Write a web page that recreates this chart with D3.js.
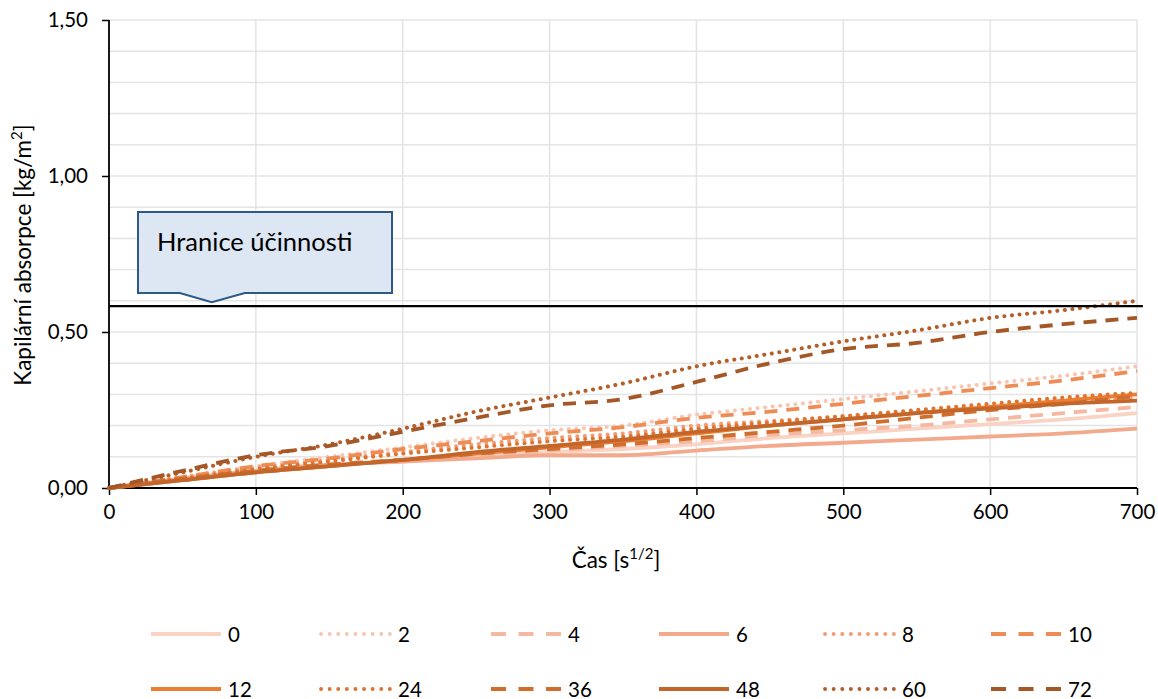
<!DOCTYPE html>
<html><head><meta charset="utf-8">
<script src="https://cdn.jsdelivr.net/npm/d3@7"></script>
<style>
body{margin:0;background:#fff;}
text{font-family:Lato,"Liberation Sans",sans-serif;fill:#000;}
</style></head>
<body><svg id="chart" width="1158" height="699"></svg>
<script>
const xValues = [0,50,100,150,200,250,300,350,400,450,500,550,600,650,700];
const seriesNames = ["0","2","4","6","8","10","12","24","36","48","60","72"];
const s0  = [0,0.03,0.055,0.075,0.085,0.10,0.115,0.125,0.14,0.16,0.175,0.19,0.205,0.22,0.24];
const s2  = [0,0.035,0.07,0.10,0.13,0.16,0.185,0.20,0.235,0.26,0.285,0.31,0.335,0.36,0.39];
const s4  = [0,0.03,0.055,0.075,0.09,0.105,0.12,0.135,0.15,0.17,0.185,0.20,0.22,0.24,0.26];
const s6  = [0,0.03,0.055,0.075,0.085,0.095,0.105,0.105,0.12,0.135,0.145,0.155,0.165,0.175,0.19];
const s8  = [0,0.035,0.065,0.09,0.115,0.14,0.16,0.175,0.20,0.215,0.23,0.245,0.26,0.275,0.29];
const s10 = [0,0.035,0.07,0.095,0.125,0.15,0.175,0.195,0.225,0.245,0.27,0.295,0.32,0.345,0.375];
const s12 = [0,0.025,0.05,0.07,0.09,0.11,0.13,0.15,0.175,0.20,0.22,0.24,0.26,0.28,0.30];
const s24 = [0,0.03,0.06,0.085,0.11,0.13,0.15,0.165,0.19,0.21,0.23,0.25,0.27,0.29,0.305];
const s36 = [0,0.03,0.055,0.075,0.09,0.11,0.125,0.14,0.16,0.18,0.20,0.225,0.25,0.27,0.295];
const s48 = [0,0.025,0.05,0.07,0.09,0.115,0.135,0.155,0.18,0.20,0.22,0.24,0.255,0.27,0.28];
const s60 = [0,0.05,0.10,0.14,0.19,0.245,0.29,0.335,0.39,0.43,0.47,0.505,0.545,0.57,0.60];
const s72 = [0,0.055,0.105,0.135,0.18,0.225,0.265,0.285,0.34,0.40,0.445,0.465,0.50,0.525,0.545];
const seriesValues = [s0,s2,s4,s6,s8,s10,s12,s24,s36,s48,s60,s72];
const seriesColors = ["#f9d3c4","#f7c6b2","#f5b8a0","#f3aa8c","#f19c76","#ef8c55","#ed7d31","#dd7530","#d06e2e","#c2662b","#b35f29","#a55827"];
const seriesStyles = ["solid","dot","dash","solid","dot","dash","solid","dot","dash","solid","dot","dash"];
const yTicks = [0,0.5,1.0,1.5];
const xTicks = [0,100,200,300,400,500,600,700];
const threshold = 0.583;
const calloutText = "Hranice účinnosti";
const calloutX = 70;

const svg = d3.select("#chart");
const x = d3.scaleLinear().domain([0,700]).range([109,1137]);
const y = d3.scaleLinear().domain([0,1.5]).range([488,20]);
const fmt = v => d3.format(".2f")(v).replace(".", ",");

// gridlines
const gridY = d3.range(1,16).map(i => i/10);
svg.append("g").selectAll("line").data(gridY).join("line")
  .attr("x1", x(0)).attr("x2", x(700))
  .attr("y1", d => y(d)).attr("y2", d => y(d))
  .attr("stroke", "#e4e4e4").attr("stroke-width", 1.5);
svg.append("g").selectAll("line").data(xTicks.slice(1)).join("line")
  .attr("x1", d => x(d)).attr("x2", d => x(d))
  .attr("y1", y(0)).attr("y2", y(1.5))
  .attr("stroke", "#e4e4e4").attr("stroke-width", 1.5);

// axes
const yAxis = svg.append("g").attr("transform", `translate(${x(0)},0)`)
  .call(d3.axisLeft(y).tickValues(yTicks).tickFormat(fmt).tickSize(7).tickPadding(14));
const xAxis = svg.append("g").attr("transform", `translate(0,${y(0)})`)
  .call(d3.axisBottom(x).tickValues(xTicks).tickSize(7).tickPadding(9));
[yAxis, xAxis].forEach(a => {
  a.select(".domain").attr("stroke", "#000").attr("stroke-width", 1.8);
  a.selectAll(".tick line").attr("stroke", "#000").attr("stroke-width", 1.5);
  a.selectAll("text").style("font-family", "Lato, 'Liberation Sans', sans-serif").style("font-size", "20.5px").attr("fill", "#000");
});
xAxis.select(".domain").attr("d", `M${x(0)},0H${x(700)}`);
yAxis.select(".domain").attr("d", `M0,${y(1.5)}V${y(0)}`);

// series
const dashFor = s => s === "dot" ? "0.1,7.5" : s === "dash" ? "13,9" : null;
const line = d3.line().x((d,i) => x(xValues[i])).y(d => y(d)).curve(d3.curveMonotoneX);
seriesValues.forEach((vals, k) => {
  svg.append("path").datum(vals)
    .attr("d", line)
    .attr("fill", "none")
    .attr("stroke", seriesColors[k])
    .attr("stroke-width", seriesStyles[k] === "dot" ? 4 : 3.8)
    .attr("stroke-linecap", seriesStyles[k] === "dot" ? "round" : "butt")
    .attr("stroke-linejoin", "round")
    .attr("stroke-dasharray", dashFor(seriesStyles[k]));
});

// threshold line
svg.append("line")
  .attr("x1", x(0)).attr("x2", x(704))
  .attr("y1", y(threshold)).attr("y2", y(threshold))
  .attr("stroke", "#000").attr("stroke-width", 2.2);

// callout
const tipX = x(calloutX), tipY = y(threshold) - 4;
const bx0 = 138, bx1 = 392, by0 = 212, by1 = 293;
svg.append("path")
  .attr("d", `M${bx0},${by0}H${bx1}V${by1}H${tipX+33}L${tipX},${tipY}L${tipX-32},${by1}H${bx0}Z`)
  .attr("fill", "#dce7f3").attr("stroke", "#2c5986").attr("stroke-width", 2);
svg.append("text").attr("x", 157).attr("y", 251)
  .style("font-size", "25.5px").text(calloutText);

// axis titles
const xt = svg.append("text").attr("x", 616).attr("y", 568).attr("text-anchor", "middle").style("font-size", "22.5px");
xt.append("tspan").text("Čas [s");
xt.append("tspan").attr("dy", -9).style("font-size", "15px").text("1/2");
xt.append("tspan").attr("dy", 9).text("]");
const yt = svg.append("text").attr("transform", "translate(31,255) rotate(-90)").attr("text-anchor", "middle").style("font-size", "22.5px");
yt.append("tspan").text("Kapilární absorpce [kg/m");
yt.append("tspan").attr("dy", -9).style("font-size", "15px").text("2");
yt.append("tspan").attr("dy", 9).text("]");

// legend
const legX = [151,321,491,659,825,991];
const legY = [634,689];
seriesNames.forEach((n,k) => {
  const col = k % 6, row = Math.floor(k / 6);
  const lx = legX[col], ly = legY[row];
  svg.append("line").attr("x1", lx).attr("x2", lx + 70).attr("y1", ly).attr("y2", ly)
    .attr("stroke", seriesColors[k]).attr("stroke-width", 3.8)
    .attr("stroke-linecap", seriesStyles[k] === "dot" ? "round" : "butt")
    .attr("stroke-dasharray", seriesStyles[k] === "dot" ? "0.1,8.5" : seriesStyles[k] === "dash" ? "15,12.5" : null);
  svg.append("text").attr("x", lx + 77).attr("y", ly + 7.5).style("font-size", "20.5px").text(n);
});
</script></body></html>
